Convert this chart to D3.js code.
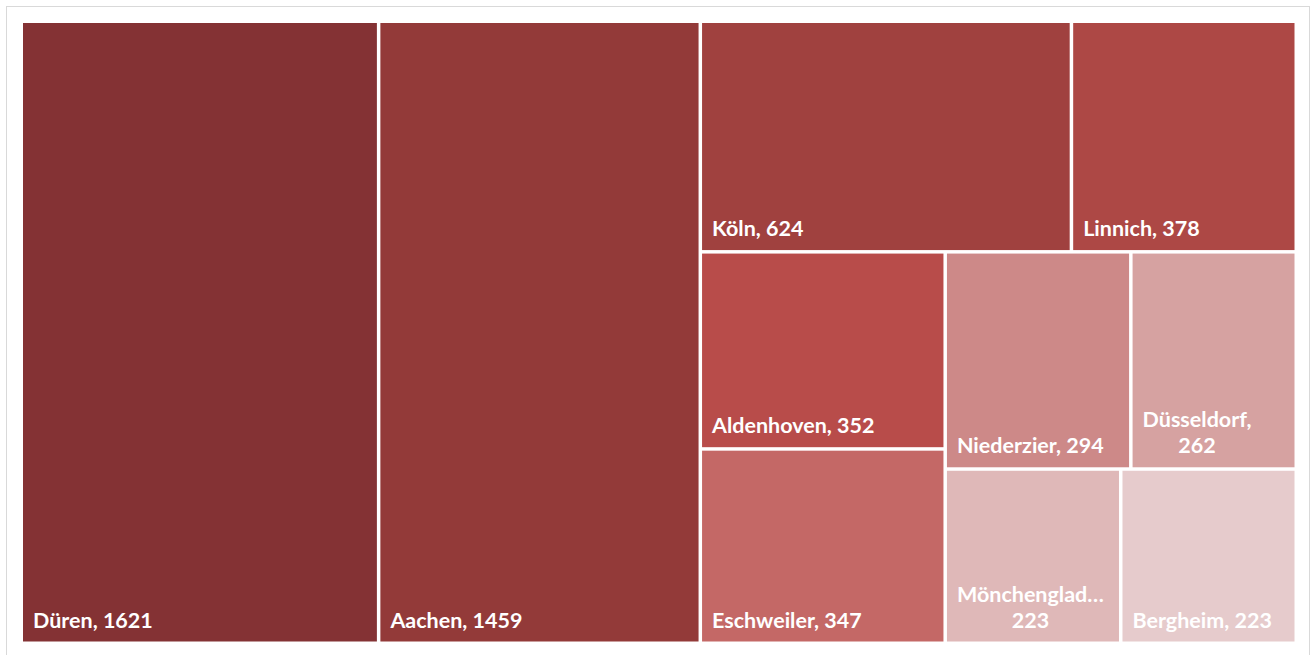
<!DOCTYPE html>
<html>
<head>
<meta charset="utf-8">
<script src="https://cdn.jsdelivr.net/npm/d3@7"></script>
<style>
  html, body { margin: 0; padding: 0; background: #ffffff; }
  svg { display: block; }
</style>
</head>
<body>
<svg id="chart" width="1314" height="655"></svg>
<script>
const names = ["Düren", "Aachen", "Köln", "Linnich", "Aldenhoven", "Eschweiler", "Niederzier", "Düsseldorf", "Mönchengladbach", "Bergheim"];
const values = [1621, 1459, 624, 378, 352, 347, 294, 262, 223, 223];
const colors = ["#843234", "#933a39", "#a0413f", "#ad4845", "#b84c4a", "#c46866", "#cd8988", "#d6a2a1", "#dfb8b8", "#e6cbcc"];

const W = 1314, H = 655;
const plot = { x0: 23, y0: 23, x1: 1294.5, y1: 641.5 };

const svg = d3.select("#chart");

// outer frame
svg.append("rect")
  .attr("x", 6.5).attr("y", 6.5)
  .attr("width", 1303).attr("height", 660)
  .attr("fill", "#ffffff")
  .attr("stroke", "#d9d9d9").attr("stroke-width", 1);

const data = { name: "root", children: names.map((n, i) => ({ name: n, value: values[i], idx: i })) };

const root = d3.hierarchy(data).sum(d => d.value || 0);
d3.treemap()
  .tile(d3.treemapSquarify.ratio(1))
  .size([plot.x1 - plot.x0, plot.y1 - plot.y0])
  .paddingInner(3.5)
  .round(false)(root);

const g = svg.append("g").attr("transform", `translate(${plot.x0},${plot.y0})`);

const leaves = root.leaves();
const cell = g.selectAll("g.cell").data(leaves).join("g").attr("class", "cell");

cell.append("rect")
  .attr("x", d => d.x0).attr("y", d => d.y0)
  .attr("width", d => d.x1 - d.x0).attr("height", d => d.y1 - d.y0)
  .attr("fill", d => colors[d.data.idx]);

const fontSize = 21.5, lineH = 26, padX = 10, padB = 14;
const fontFamily = "Lato, 'Open Sans', sans-serif";

cell.each(function(d) {
  const sel = d3.select(this);
  const maxW = (d.x1 - d.x0) - 2 * padX + 4;
  const t = sel.append("text")
    .attr("font-family", fontFamily)
    .attr("font-weight", 700)
    .attr("font-size", fontSize)
    .attr("fill", "#ffffff");
  const full = `${d.data.name}, ${d.data.value}`;
  t.text(full);
  let lines;
  if (t.node().getComputedTextLength() <= maxW) {
    lines = [full];
  } else {
    let first = `${d.data.name},`;
    t.text(first);
    if (t.node().getComputedTextLength() > maxW) {
      let s = d.data.name;
      while (s.length > 1) {
        s = s.slice(0, -1);
        t.text(s + "…");
        if (t.node().getComputedTextLength() <= maxW) break;
      }
      first = s + "…";
    }
    lines = [first, String(d.data.value)];
  }
  t.text(null);
  const widths = lines.map(l => { t.text(l); return t.node().getComputedTextLength(); });
  t.text(null);
  const blockW = d3.max(widths);
  const baseY = d.y1 - padB;
  lines.forEach((l, i) => {
    t.append("tspan")
      .attr("x", d.x0 + padX + blockW / 2)
      .attr("y", baseY - (lines.length - 1 - i) * lineH)
      .attr("text-anchor", "middle")
      .text(l);
  });
});
</script>
</body>
</html>
